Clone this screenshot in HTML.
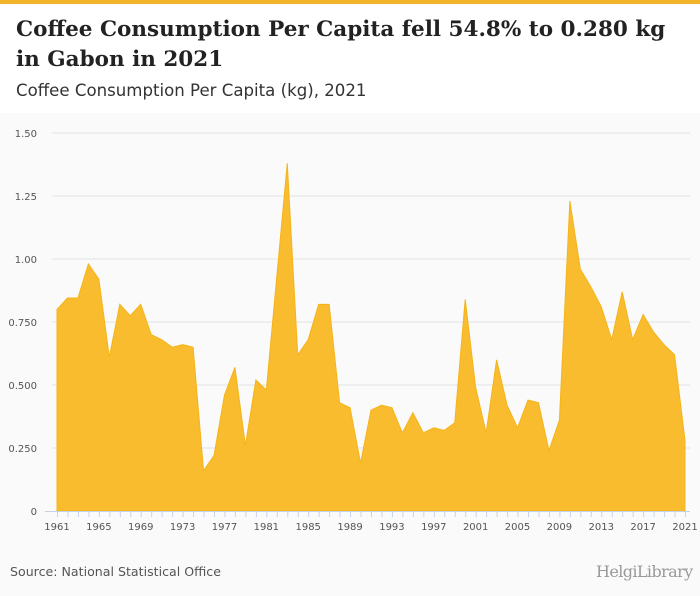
<!DOCTYPE html>
<html><head><meta charset="utf-8"><style>
body{margin:0;width:700px;height:596px;background:#fafafa;font-family:"DejaVu Sans",sans-serif;overflow:hidden}
#hdr{position:absolute;left:0;top:0;width:700px;height:113px;background:#fff}
#bar{position:absolute;left:0;top:0;width:700px;height:4px;background:#f0b428}
h1{position:absolute;left:16px;top:15px;margin:0;font:bold 21.5px "DejaVu Serif",serif;color:#222;line-height:30px;white-space:nowrap}
#sub{position:absolute;left:16px;top:81px;font-size:16.6px;color:#333}
#src{position:absolute;left:10px;top:564px;font-size:12.6px;color:#555}
#logo{position:absolute;left:596px;top:562px;font-size:16px;color:#999;font-family:"DejaVu Serif",serif;letter-spacing:-0.6px}
</style></head><body>
<div id="hdr"><div id="bar"></div>
<h1>Coffee Consumption Per Capita fell 54.8% to 0.280 kg<br>in Gabon in 2021</h1>
<div id="sub">Coffee Consumption Per Capita (kg), 2021</div></div>
<svg id="chart" width="700" height="596" style="position:absolute;left:0;top:0"></svg>
<div id="src">Source: National Statistical Office</div>
<div id="logo">HelgiLibrary</div>
<script>
const years=[];for(let y=1961;y<=2021;y++)years.push(y);
const values=[0.80,0.845,0.845,0.98,0.92,0.61,0.82,0.775,0.82,0.70,0.68,0.65,0.66,0.65,0.16,0.22,0.46,0.57,0.26,0.52,0.48,0.93,1.38,0.62,0.68,0.82,0.82,0.43,0.41,0.19,0.40,0.42,0.41,0.31,0.39,0.31,0.33,0.32,0.35,0.84,0.49,0.31,0.60,0.42,0.33,0.44,0.43,0.24,0.36,1.23,0.96,0.89,0.81,0.68,0.87,0.68,0.78,0.71,0.66,0.62,0.28];
const yTicks=[0,0.25,0.5,0.75,1.0,1.25,1.5];
const yTickLabels=["0","0.250","0.500","0.750","1.00","1.25","1.50"];
const xLabelYears=[1961,1965,1969,1973,1977,1981,1985,1989,1993,1997,2001,2005,2009,2013,2017,2021];
const svg=document.getElementById('chart'),NS='http://www.w3.org/2000/svg';
const X=y=>57+(y-1961)*(685-57)/60, Y=v=>511-v*252;
function mk(t,a){const e=document.createElementNS(NS,t);for(const k in a)e.setAttribute(k,a[k]);svg.appendChild(e);return e;}
yTicks.forEach((v,i)=>{
 if(v>0){const g=mk('line',{x1:52,x2:690,y1:Y(v),y2:Y(v),stroke:'#e2e2e2'});
 
 }
 const t=mk('text',{x:37,y:Y(v)+4,'text-anchor':'end','font-size':10,fill:'#555','font-family':'DejaVu Sans'});
 t.textContent=yTickLabels[i];
 
 
});
let d='M'+X(years[0])+','+Y(0);
years.forEach((y,i)=>d+=' L'+X(y)+','+Y(values[i]));
d+=' L'+X(years[years.length-1])+','+Y(0)+' Z';
const area=mk('path',{d:d,fill:'#f9bc2e',stroke:'#f4b41a','stroke-width':1});


const ax=mk('line',{x1:45,x2:690,y1:Y(0)+0.5,y2:Y(0)+0.5,stroke:'#c5d3e8'});


years.forEach(y=>{const tk=mk('line',{x1:X(y)+0.5,x2:X(y)+0.5,y1:Y(0),y2:Y(0)+6,stroke:'#c5d3e8'});
 
 });
xLabelYears.forEach(y=>{const t=mk('text',{x:X(y),y:530,'text-anchor':'middle','font-size':10,fill:'#555','font-family':'DejaVu Sans'});
 t.textContent=y;
 
 });
</script>
</body></html>
